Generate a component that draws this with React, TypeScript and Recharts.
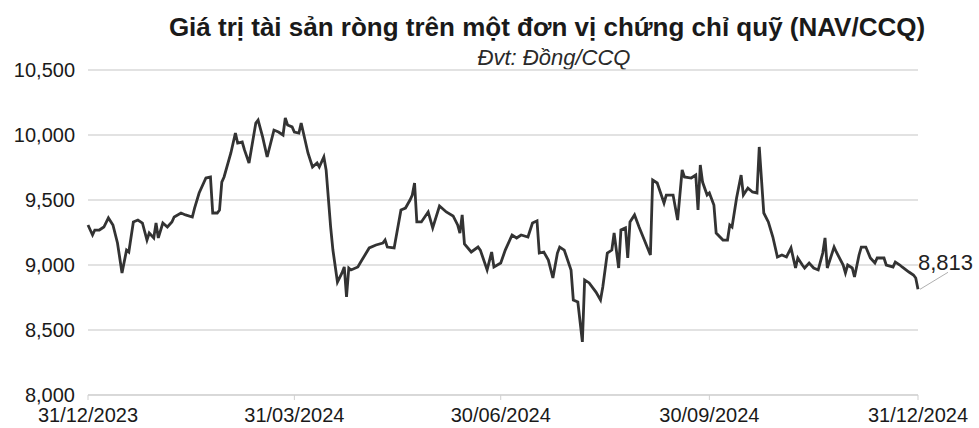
import React from 'react';
import { LineChart, Line, XAxis, YAxis, CartesianGrid } from 'recharts';

const days: number[] = [
  0, 2, 3, 5, 7, 9, 11, 13, 15, 17, 18, 20, 22, 24, 26, 27, 29, 30, 31, 33,
  35, 37, 38, 41, 43, 46, 47, 49, 52, 54, 55, 57, 58, 59, 60, 63, 65, 66, 68, 69,
  71, 74, 75, 77, 79, 82, 84, 86, 87, 88, 90, 91, 93, 94, 95, 97, 99, 101, 102, 104,
  105, 107, 108, 110, 112, 113, 114, 115, 116, 119, 120, 124, 127, 130, 131, 132, 135, 138, 140, 142,
  143, 144, 145, 147, 150, 152, 155, 158, 161, 163, 164, 165, 166, 169, 172, 173, 176, 178, 179, 182,
  184, 187, 189, 191, 194, 196, 198, 199, 201, 203, 205, 207, 208, 210, 213, 214, 216, 218, 219, 221,
  224, 226, 227, 229, 231, 232, 234, 235, 237, 238, 239, 241, 243, 248, 249, 251, 254, 255, 258, 260,
  262, 263, 266, 268, 269, 270, 271, 273, 274, 276, 277, 280, 282, 283, 284, 286, 288, 289, 291, 293,
  295, 296, 298, 300, 302, 304, 306, 308, 310, 312, 313, 315, 316, 318, 320, 322, 324, 325, 326, 329,
  330, 333, 334, 335, 337, 338, 340, 341, 343, 345, 347, 348, 351, 352, 355, 356, 358, 359, 362, 364,
  365, 366,
];

const nav: number[] = [
  9308, 9231, 9269, 9269, 9292, 9362, 9308, 9169, 8939, 9115, 9100, 9331, 9346, 9323, 9192, 9246, 9208, 9323, 9208, 9323,
  9292, 9331, 9369, 9400, 9385, 9369, 9438, 9554, 9669, 9677, 9400, 9400, 9423, 9638, 9677, 9862, 10015, 9938, 9946, 9885,
  9785, 10092, 10115, 9985, 9831, 10038, 10023, 10000, 10131, 10077, 10062, 10023, 10015, 10092, 10015, 9862, 9754, 9785, 9754, 9831,
  9731, 9292, 9115, 8869, 8939, 8985, 8754, 8977, 8962, 8985, 9015, 9131, 9154, 9169, 9192, 9138, 9131, 9423, 9438, 9500,
  9538, 9631, 9331, 9331, 9408, 9285, 9454, 9408, 9377, 9308, 9246, 9385, 9162, 9100, 9138, 9115, 8962, 9100, 8985, 9015,
  9115, 9231, 9208, 9231, 9215, 9323, 9340, 9092, 9100, 9038, 8900, 9092, 9138, 9115, 8962, 8731, 8715, 8408, 8885, 8862,
  8792, 8731, 8831, 9092, 9115, 9246, 8977, 9269, 9285, 9054, 9331, 9385, 9292, 9077, 9654, 9631, 9477, 9538, 9538, 9346,
  9731, 9677, 9669, 9692, 9423, 9769, 9638, 9538, 9554, 9462, 9246, 9192, 9192, 9308, 9292, 9515, 9692, 9538, 9592, 9562,
  9554, 9908, 9400, 9331, 9215, 9062, 9077, 9062, 9131, 8977, 9054, 9000, 8977, 9015, 8977, 8962, 9092, 9208, 8977, 9138,
  9100, 9000, 8939, 9000, 8977, 8908, 9077, 9138, 9138, 9054, 9015, 9054, 9054, 9000, 8985, 9023, 9000, 8985, 8946, 8923,
  8900, 8813,
];

const tickDays: number[] = [0, 91, 182, 274, 366];
const tickLabels: string[] = ['31/12/2023', '31/03/2024', '30/06/2024', '30/09/2024', '31/12/2024'];
const yTicks: number[] = [8000, 8500, 9000, 9500, 10000, 10500];

const title = 'Giá trị tài sản ròng trên một đơn vị chứng chỉ quỹ (NAV/CCQ)';
const subtitle = 'Đvt: Đồng/CCQ';

const data = days.map((d, i) => ({ day: d, nav: nav[i] }));

const FONT = '"Liberation Sans", Arial, sans-serif';

const EndLabel = (props: any) => {
  const { x, y, index, value } = props;
  if (index !== data.length - 1) return null;
  return (
    <g>
      <line x1={x + 2} y1={y} x2={x + 30} y2={y - 17} stroke="#b0b0b0" strokeWidth={1} />
      <text x={x} y={y - 19} fill="#222" fontSize={22} fontFamily={FONT}>
        {Number(value).toLocaleString('en-US')}
      </text>
    </g>
  );
};

export default function App() {
  return (
    <div style={{ position: 'absolute', left: 0, top: 0, width: 979, height: 428, background: '#fff' }}>
      <div
        style={{
          position: 'absolute', left: 0, width: 979, top: 13, textAlign: 'center', paddingLeft: 115,
          boxSizing: 'border-box', fontFamily: FONT, fontWeight: 'bold', fontSize: 26, color: '#1a1a1a', lineHeight: '28px',
          whiteSpace: 'nowrap',
        }}
      >
        {title}
      </div>
      <div
        style={{
          position: 'absolute', left: 0, width: 979, top: 45, textAlign: 'center', paddingLeft: 129,
          boxSizing: 'border-box', fontFamily: FONT, fontStyle: 'italic', fontSize: 22, color: '#2a2a2a', lineHeight: '26px',
        }}
      >
        {subtitle}
      </div>
      <LineChart width={979} height={428} data={data} margin={{ top: 70, right: 61, left: 0, bottom: 0 }}>
        <CartesianGrid horizontal vertical={false} stroke="#d9d9d9" strokeWidth={1.5} />
        <XAxis
          dataKey="day"
          type="number"
          domain={[0, 366]}
          ticks={tickDays}
          tickFormatter={(v: number) => tickLabels[tickDays.indexOf(v)] ?? ''}
          height={33}
          axisLine={{ stroke: '#cfcfcf' }}
          tickLine={{ stroke: '#cfcfcf' }}
          tickSize={5}
          tickMargin={8}
          tick={{ fill: '#1a1a1a', fontSize: 20, fontFamily: FONT }}
          interval={0}
        />
        <YAxis
          type="number"
          domain={[8000, 10500]}
          ticks={yTicks}
          width={88}
          axisLine={false}
          tickLine={false}
          tickSize={0}
          tickMargin={13}
          tickFormatter={(v: number) => v.toLocaleString('en-US')}
          tick={{ fill: '#1a1a1a', fontSize: 20, fontFamily: FONT }}
          interval={0}
        />
        <Line
          type="linear"
          dataKey="nav"
          stroke="#333333"
          strokeWidth={2.8}
          dot={false}
          isAnimationActive={false}
          label={<EndLabel />}
        />
      </LineChart>
    </div>
  );
}
